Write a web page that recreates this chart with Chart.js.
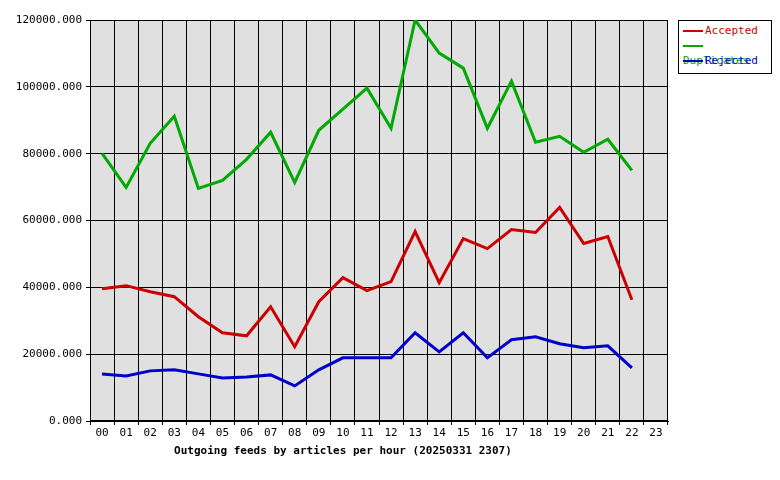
<!DOCTYPE html>
<html>
<head>
<script src="https://cdn.jsdelivr.net/npm/chart.js"></script>
<style>
body{margin:0;background:#fff;font-family:"DejaVu Sans Mono",monospace;}
#wrap{position:relative;width:780px;height:480px;}
#legend{position:absolute;left:678px;top:20px;width:94px;height:54px;border:1px solid #000;box-sizing:border-box;font-size:11px;background:#fff;}
#legend div{height:15px;line-height:15px;padding-left:4px;margin-top:2px}
#legend span{display:inline-block;width:20px;height:2px;vertical-align:middle;margin-right:2px}
#title{position:absolute;left:0;width:686px;text-align:center;top:444px;font-size:11px;font-weight:bold}
</style>
</head>
<body>
<div id="wrap">
<canvas id="myChart" width="780" height="480"></canvas>
<div id="legend">
<div style="color:#cc0000"><span style="background:#cc0000"></span>Accepted</div>
<div style="color:#00aa00;margin-top:0"><span style="background:#00aa00"></span>Duplicates</div>
<div style="color:#0000cc;margin-top:0"><span style="background:#0000cc"></span>Rejected</div>
</div>
<div id="title">Outgoing feeds by articles per hour (20250331 2307)</div>
</div>
<script>
var hours = ['00','01','02','03','04','05','06','07','08','09','10','11','12','13','14','15','16','17','18','19','20','21','22','23'];
var accepted = [39600,40500,38700,37200,31200,26400,25500,34200,22200,35700,42900,39000,41700,56700,41400,54600,51600,57300,56400,63900,53100,55200,36300,null];
var duplicates = [80100,69900,83100,91200,69600,72000,78300,86400,71400,87000,93300,99600,87600,120000,110100,105600,87600,101700,83400,85200,80400,84300,75000,null];
var rejected = [14100,13500,15000,15300,14100,12900,13200,13800,10500,15300,18900,18900,18900,26400,20700,26400,18900,24300,25200,23100,21900,22500,15900,null];

var bgPlugin = {
    id: 'bg',
    beforeDraw: function(chart) {
        var a = chart.chartArea, c = chart.ctx;
        c.save();
        c.fillStyle = '#e0e0e0';
        c.fillRect(a.left, a.top, a.right - a.left, a.bottom - a.top);
        c.strokeStyle = '#000';
        c.lineWidth = 1;
        c.strokeRect(a.left + 0.5, a.top + 0.5, a.right - a.left - 1, a.bottom - a.top - 1);
        c.restore();
    }
};

Chart.defaults.font.family = '"DejaVu Sans Mono", monospace';
Chart.defaults.font.size = 11;
Chart.defaults.color = '#000';

var ctx = document.getElementById('myChart').getContext('2d');
new Chart(ctx, {
    type: 'line',
    data: {
        labels: hours,
        datasets: [
            {label: 'Accepted', data: accepted, borderColor: '#cc0000', borderWidth: 3, pointRadius: 0, tension: 0},
            {label: 'Duplicates', data: duplicates, borderColor: '#00aa00', borderWidth: 3, pointRadius: 0, tension: 0},
            {label: 'Rejected', data: rejected, borderColor: '#0000cc', borderWidth: 3, pointRadius: 0, tension: 0}
        ]
    },
    plugins: [bgPlugin],
    options: {
        responsive: false,
        animation: false,
        layout: {padding: {top: 20, right: 112, bottom: 39, left: 0}},
        plugins: {legend: {display: false}, tooltip: {enabled: false}},
        scales: {
            x: {
                offset: true,
                grid: {offset: true, color: '#000', drawTicks: true, tickLength: 4},
                border: {color: '#000'},
                ticks: {maxRotation: 0, autoSkip: false, padding: 2},
                afterFit: function(s) { s.height = 20; }
            },
            y: {
                min: 0, max: 120000,
                ticks: {stepSize: 20000, callback: function(v) { return v.toFixed(3); }, padding: 4},
                grid: {color: '#000', tickLength: 4},
                border: {color: '#000'},
                afterFit: function(s) { s.width = 90; }
            }
        }
    }
});
</script>
</body>
</html>
